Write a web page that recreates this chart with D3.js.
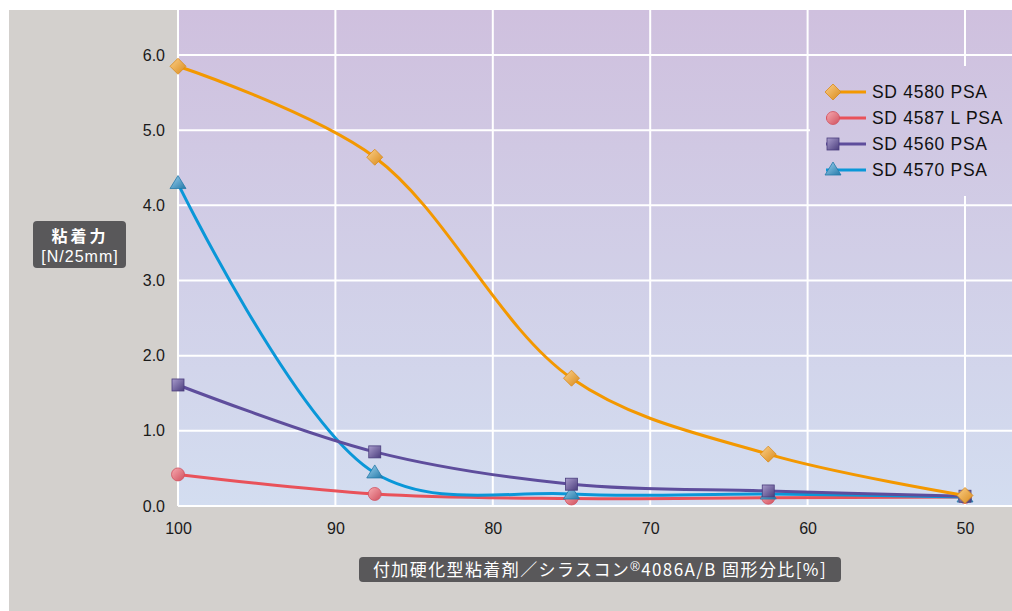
<!DOCTYPE html>
<html>
<head>
<meta charset="utf-8">
<script src="https://cdn.jsdelivr.net/npm/d3@7"></script>
<style>
  body { margin: 0; background: #fff; }
  svg text { font-family: "Liberation Sans", Arial, "Noto Sans CJK JP", sans-serif; }
</style>
</head>
<body>
<div class="chart"></div>
<script>
const ratios = [100, 87.5, 75, 62.5, 50];
const xTicks = [100, 90, 80, 70, 60, 50];
const yTicks = [0, 1, 2, 3, 4, 5, 6];

const sd4580 = [5.85, 4.64, 1.70, 0.69, 0.14];
const sd4587 = [0.42, 0.16, 0.10, 0.11, 0.12];
const sd4560 = [1.61, 0.72, 0.29, 0.20, 0.13];
const sd4570 = [4.29, 0.44, 0.16, 0.16, 0.12];

const seriesNames = ["SD 4580 PSA", "SD 4587 L PSA", "SD 4560 PSA", "SD 4570 PSA"];

const series = [
  { name: seriesNames[1], values: sd4587, color: "#e9525a", light: "#f7aab0", dark: "#d0505e", shape: "circle" },
  { name: seriesNames[3], values: sd4570, color: "#0a97d8", light: "#9fd3f0", dark: "#2479a8", shape: "triangle" },
  { name: seriesNames[2], values: sd4560, color: "#5e4d9c", light: "#a99ccc", dark: "#4a3d7d", shape: "square" },
  { name: seriesNames[0], values: sd4580, color: "#f39800", light: "#fbcf8a", dark: "#d98a1a", shape: "diamond" }
];

const W = 1012, H = 611;
const plot = { left: 178, top: 10, right: 1012, bottom: 506 };

const svg = d3.select(".chart").append("svg")
  .attr("width", W)
  .attr("height", H);

const defs = svg.append("defs");

const bg = defs.append("linearGradient")
  .attr("id", "plotBg")
  .attr("gradientUnits", "userSpaceOnUse")
  .attr("x1", 0).attr("y1", plot.top)
  .attr("x2", 0).attr("y2", plot.bottom);
bg.append("stop").attr("offset", 0).attr("stop-color", "#cfc0de");
bg.append("stop").attr("offset", 1).attr("stop-color", "#d3ddf0");

series.forEach((s, i) => {
  const g = defs.append("linearGradient")
    .attr("id", "mk" + i)
    .attr("x1", 0).attr("y1", 0).attr("x2", 1).attr("y2", 1);
  g.append("stop").attr("offset", 0).attr("stop-color", s.light);
  g.append("stop").attr("offset", 1).attr("stop-color", s.dark);
});

// outer gray panel
svg.append("rect")
  .attr("x", 9).attr("y", 10)
  .attr("width", W - 9).attr("height", H - 10)
  .attr("fill", "#d3d0cd");

svg.append("rect")
  .attr("x", plot.left).attr("y", plot.top)
  .attr("width", plot.right - plot.left).attr("height", plot.bottom - plot.top)
  .attr("fill", "url(#plotBg)");

const x = d3.scaleLinear().domain([100, 50]).range([178, 965]);
const y = d3.scaleLinear().domain([0, 6]).range([506, 55]);

// grid
svg.append("g").selectAll("line")
  .data(yTicks)
  .join("line")
  .attr("x1", plot.left).attr("x2", plot.right)
  .attr("y1", d => y(d)).attr("y2", d => y(d))
  .attr("stroke", "#fff")
  .attr("stroke-width", 2);

svg.append("g").selectAll("line")
  .data(xTicks)
  .join("line")
  .attr("x1", d => x(d)).attr("x2", d => x(d))
  .attr("y1", plot.top).attr("y2", plot.bottom)
  .attr("stroke", "#fff")
  .attr("stroke-width", 2);

// axes
const yAxis = svg.append("g")
  .attr("transform", `translate(${plot.left},0)`)
  .call(d3.axisLeft(y).tickValues(yTicks).tickFormat(d3.format(".1f")).tickSize(0).tickPadding(13));
const xAxis = svg.append("g")
  .attr("transform", `translate(0,${plot.bottom})`)
  .call(d3.axisBottom(x).tickValues(xTicks).tickSize(0).tickPadding(17));
[xAxis, yAxis].forEach(a => {
  a.select(".domain").remove();
  a.selectAll("text")
    .attr("font-size", 16)
    .attr("fill", "#1a1a1a")
    .style("font-family", "'Liberation Sans', Arial, sans-serif");
});

// legend background (hides grid)
const legendG = svg.append("g");
legendG.append("rect")
  .attr("x", 810).attr("y", 66)
  .attr("width", plot.right - 810).attr("height", 130)
  .attr("fill", "url(#plotBg)");

// lines
const line = d3.line()
  .x((d, i) => x(ratios[i]))
  .y(d => y(d))
  .curve(d3.curveCatmullRom.alpha(0.5));

function drawMarker(g, shape, cx, cy, i) {
  const fill = `url(#mk${i})`;
  const s = series[i];
  if (shape === "circle") {
    g.append("circle").attr("cx", cx).attr("cy", cy).attr("r", 6.5)
      .attr("fill", fill).attr("stroke", s.dark).attr("stroke-width", 0.8);
  } else if (shape === "square") {
    g.append("rect").attr("x", cx - 6).attr("y", cy - 6).attr("width", 12).attr("height", 12)
      .attr("fill", fill).attr("stroke", s.dark).attr("stroke-width", 0.8);
  } else if (shape === "diamond") {
    g.append("path").attr("d", `M${cx},${cy - 8}L${cx + 8},${cy}L${cx},${cy + 8}L${cx - 8},${cy}Z`)
      .attr("fill", fill).attr("stroke", s.dark).attr("stroke-width", 0.8);
  } else {
    g.append("path").attr("d", `M${cx},${cy - 8}L${cx + 8},${cy + 5}L${cx - 8},${cy + 5}Z`)
      .attr("fill", fill).attr("stroke", s.dark).attr("stroke-width", 0.8);
  }
}

series.forEach((s, i) => {
  const g = svg.append("g");
  g.append("path")
    .datum(s.values)
    .attr("d", line)
    .attr("fill", "none")
    .attr("stroke", s.color)
    .attr("stroke-width", 3);
  s.values.forEach((v, j) => drawMarker(g, s.shape, x(ratios[j]), y(v), i));
});

// legend entries in original order
const legendOrder = [3, 0, 2, 1];
legendOrder.forEach((si, k) => {
  const s = series[si];
  const ly = 92 + k * 26;
  legendG.append("line")
    .attr("x1", 826).attr("x2", 866)
    .attr("y1", ly).attr("y2", ly)
    .attr("stroke", s.color).attr("stroke-width", 3);
  drawMarker(legendG, s.shape, 833, ly, si);
  legendG.append("text")
    .attr("x", 872).attr("y", ly + 6)
    .attr("font-size", 17.5)
    .attr("letter-spacing", 0.7)
    .attr("fill", "#111")
    .text(s.name);
});

// y axis title box
svg.append("rect")
  .attr("x", 33).attr("y", 221).attr("width", 93).attr("height", 47)
  .attr("rx", 4).attr("fill", "#59585a");
svg.append("text")
  .attr("x", 80).attr("y", 242)
  .attr("text-anchor", "middle").attr("fill", "#fff")
  .attr("font-size", 16).attr("font-weight", "bold")
  .attr("letter-spacing", 3)
  .style("font-family", "'Noto Sans CJK JP', sans-serif")
  .text("粘着力");
svg.append("text")
  .attr("x", 80).attr("y", 262)
  .attr("text-anchor", "middle").attr("fill", "#fff")
  .attr("font-size", 16)
  .attr("letter-spacing", 1)
  .text("[N/25mm]");

// x axis title box
svg.append("rect")
  .attr("x", 359).attr("y", 557).attr("width", 482).attr("height", 25)
  .attr("rx", 4).attr("fill", "#59585a");
const xt = svg.append("text")
  .attr("x", 600).attr("y", 576)
  .attr("text-anchor", "middle").attr("fill", "#fff")
  .attr("font-size", 17)
  .attr("letter-spacing", 1.4)
  .style("font-family", "'Noto Sans CJK JP', sans-serif");
xt.append("tspan").text("付加硬化型粘着剤／シラスコン");
xt.append("tspan").attr("font-size", 13).attr("dy", -5)
  .style("font-family", "'Liberation Sans', Arial, sans-serif").text("®");
xt.append("tspan").attr("dy", 5).text("4086A/B  固形分比[%]");
</script>
</body>
</html>
